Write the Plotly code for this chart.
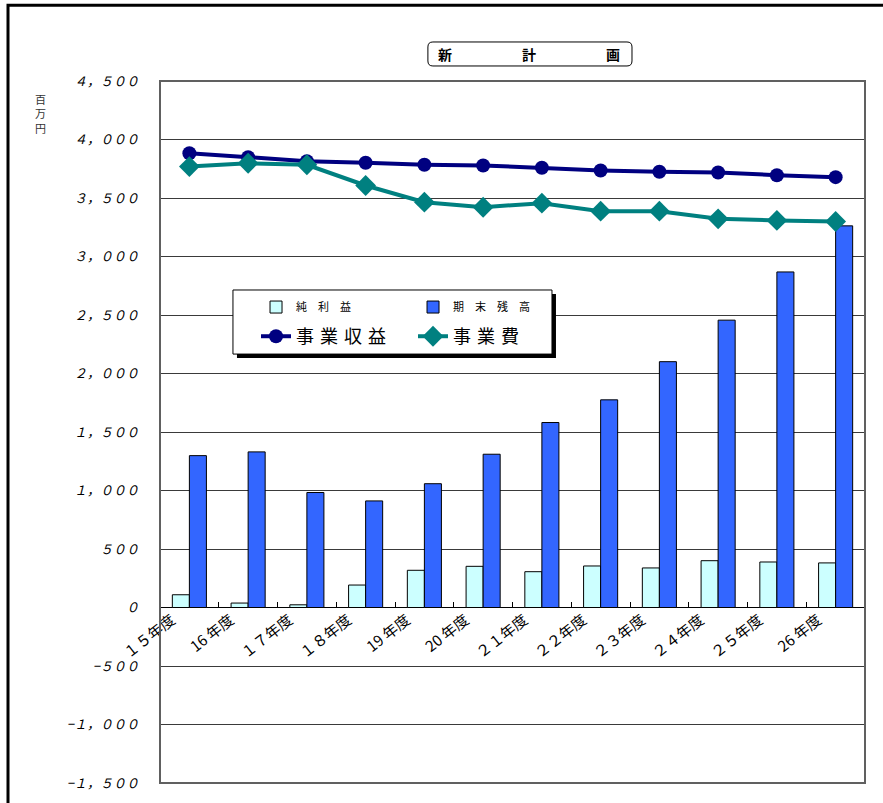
import plotly.graph_objects as go

# 年度別の計画値（単位：百万円）
categories = ["１５年度", "16 年度", "１７年度", "１８年度", "19 年度", "20 年度",
              "２１年度", "２２年度", "２３年度", "２４年度", "２５年度", "26 年度"]
net_profit = [109, 38, 23, 192, 318, 352, 306, 355, 338, 400, 389, 381]           # 純利益
ending_balance = [1298, 1330, 983, 911, 1058, 1310, 1581, 1775, 2101, 2456, 2868, 3262]  # 期末残高
revenue = [3883, 3849, 3815, 3801, 3784, 3778, 3758, 3735, 3724, 3718, 3695, 3678]      # 事業収益
expenses = [3769, 3797, 3784, 3607, 3464, 3421, 3456, 3387, 3387, 3322, 3308, 3299]     # 事業費

y_min, y_max = -1500, 4500
y_ticks = [-1500, -1000, -500, 0, 500, 1000, 1500, 2000, 2500, 3000, 3500, 4000, 4500]
y_ticktext = ["−１，５００", "−１，０００", "−５００", "０", "５００", "１，０００", "１，５００",
              "２，０００", "２，５００", "３，０００", "３，５００", "４，０００", "４，５００"]

JP = "Noto Sans CJK JP"
xs = list(range(len(categories)))
S = "\u2004"  # 凡例の字間

fig = go.Figure()
fig.add_trace(go.Bar(x=xs, y=net_profit, name="純　利　益",
                     marker=dict(color="#CCFFFF", line=dict(color="#000000", width=1)),
                     legend="legend"))
fig.add_trace(go.Bar(x=xs, y=ending_balance, name="期　末　残　高",
                     marker=dict(color="#3366FF", line=dict(color="#000000", width=1)),
                     legend="legend"))
fig.add_trace(go.Scatter(x=xs, y=revenue, name=S.join("事業収益"), mode="lines+markers",
                         line=dict(color="#000080", width=4),
                         marker=dict(symbol="circle", size=14, color="#000080"),
                         legend="legend2"))
fig.add_trace(go.Scatter(x=xs, y=expenses, name=S.join("事業費"), mode="lines+markers",
                         line=dict(color="#008080", width=4),
                         marker=dict(symbol="diamond", size=16, color="#008080"),
                         legend="legend2"))

# 横軸は 0 の位置に置く
zero_pos = (0 - y_min) / (y_max - y_min)

# 凡例枠（影付き）
lx0, lx1, ly0, ly1 = 0.1035, 0.556, 0.611, 0.7023
sx, sy = 4 / 705, 4 / 702
shapes = [
    # 外枠
    dict(type="rect", xref="paper", yref="paper", x0=-0.2156, x1=1.035, y0=-0.0385, y1=1.108,
         line=dict(color="#000000", width=3), fillcolor="rgba(0,0,0,0)", layer="below"),
    # プロット領域の枠
    dict(type="rect", xref="paper", yref="paper", x0=0, x1=1, y0=0, y1=1,
         line=dict(color="#606060", width=2), fillcolor="rgba(0,0,0,0)", layer="above"),
    dict(type="rect", xref="paper", yref="paper", x0=lx0 + sx, x1=lx1 + sx, y0=ly0 - sy, y1=ly1 - sy,
         line=dict(width=0), fillcolor="#000000", layer="above"),
    dict(type="rect", xref="paper", yref="paper", x0=lx0, x1=lx1, y0=ly0, y1=ly1,
         line=dict(color="#000000", width=1), fillcolor="#FFFFFF", layer="above"),
]

# タイトル枠（角丸）
tx0, tx1, ty0, ty1 = 0.380, 0.6695, 1.0214, 1.0556
rx, ry = 5 / 705, 5 / 702
path = (f"M {tx0+rx},{ty0} L {tx1-rx},{ty0} Q {tx1},{ty0} {tx1},{ty0+ry} "
        f"L {tx1},{ty1-ry} Q {tx1},{ty1} {tx1-rx},{ty1} L {tx0+rx},{ty1} "
        f"Q {tx0},{ty1} {tx0},{ty1-ry} L {tx0},{ty0+ry} Q {tx0},{ty0} {tx0+rx},{ty0} Z")
shapes.append(dict(type="path", xref="paper", yref="paper", path=path,
                   line=dict(color="#000000", width=1), fillcolor="#FFFFFF"))

annotations = [
    dict(text="<b>新　　　　　計　　　　　画</b>", xref="paper", yref="paper",
         x=0.5234, y=1.0385, xanchor="center", yanchor="middle", showarrow=False,
         font=dict(family=JP, size=14, color="#000000")),
    dict(text="百<br>万<br>円", xref="paper", yref="paper", x=-0.1702, y=0.9544,
         xanchor="center", yanchor="middle", showarrow=False,
         font=dict(family=JP, size=11, color="#333333")),
]

fig.update_layout(
    width=883, height=803,
    margin=dict(l=160, r=18, t=81, b=20),
    paper_bgcolor="#FFFFFF", plot_bgcolor="#FFFFFF",
    barmode="group", bargap=0.42, bargroupgap=0,
    shapes=shapes, annotations=annotations,
    legend=dict(x=0.1362, y=0.678, xanchor="left", yanchor="middle", orientation="h",
                bgcolor="rgba(0,0,0,0)", font=dict(family=JP, size=11, color="#000000"),
                entrywidth=112, entrywidthmode="pixels"),
    legend2=dict(x=0.1362, y=0.636, xanchor="left", yanchor="middle", orientation="h",
                 bgcolor="rgba(0,0,0,0)", font=dict(family=JP, size=18, color="#000000"),
                 entrywidth=112, entrywidthmode="pixels"),
    xaxis=dict(range=[-0.5, len(categories) - 0.5], automargin=False,
               anchor="free", position=zero_pos,
               tickmode="array", tickvals=[i - 0.3 for i in xs], ticktext=categories,
               tickangle=-38, ticks="", tickfont=dict(family=JP, size=15, color="#000000"),
               showgrid=False, zeroline=False, showline=False,
               minor=dict(tick0=-0.5, dtick=1, ticks="inside", ticklen=6,
                          tickcolor="#000000", showgrid=False)),
    yaxis=dict(range=[y_min, y_max], automargin=False,
               tickmode="array", tickvals=y_ticks, ticktext=y_ticktext,
               tickfont=dict(family=JP, size=13, color="#000000", style="italic"),
               ticks="", ticklabelstandoff=20,
               showgrid=True, gridcolor="#3a3a3a", gridwidth=1,
               zeroline=True, zerolinecolor="#000000", zerolinewidth=1,
               showline=False),
    showlegend=True,
)

fig.write_html("out.html")
